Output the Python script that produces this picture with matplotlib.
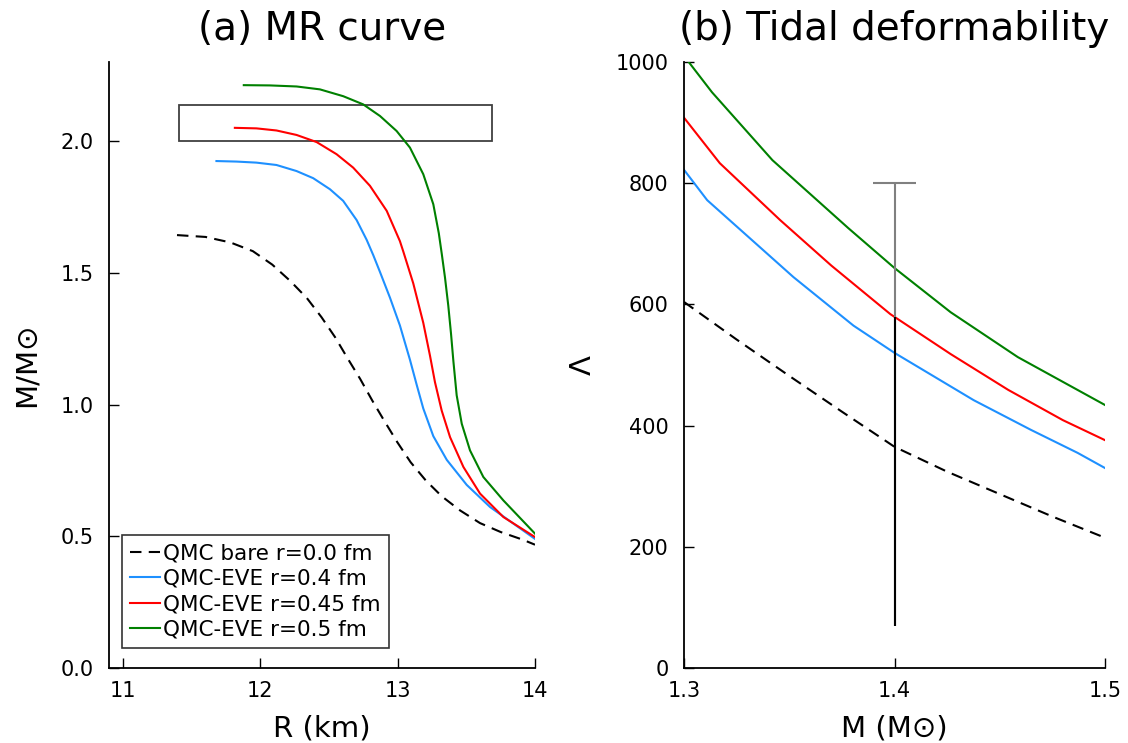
import numpy as np
import matplotlib
matplotlib.use("Agg")
import matplotlib.pyplot as plt
from matplotlib.patches import Rectangle

### MR curve data (R in km, M in solar masses)
R_bare = np.array([11.395, 11.602, 11.784, 11.947, 12.088, 12.219, 12.340, 12.447, 12.546, 12.639, 12.728,
                   12.816, 12.901, 12.998, 13.095, 13.205, 13.321, 13.455, 13.600, 13.751, 13.911, 14.0])
M_bare = np.array([1.643, 1.636, 1.615, 1.582, 1.531, 1.469, 1.404, 1.331, 1.255, 1.173, 1.097,
                   1.015, 0.940, 0.857, 0.781, 0.712, 0.652, 0.598, 0.550, 0.516, 0.487, 0.468])

R_04 = np.array([11.682, 11.828, 11.973, 12.119, 12.265, 12.386, 12.508, 12.604, 12.702, 12.775, 12.823,
                 12.872, 12.945, 13.017, 13.090, 13.139, 13.187, 13.260, 13.358, 13.503, 13.673, 13.843, 14.0])
M_04 = np.array([1.924, 1.922, 1.918, 1.909, 1.886, 1.859, 1.817, 1.773, 1.700, 1.625, 1.567,
                 1.503, 1.405, 1.300, 1.170, 1.075, 0.985, 0.880, 0.790, 0.695, 0.611, 0.548, 0.490])

R_045 = np.array([11.816, 11.973, 12.119, 12.265, 12.411, 12.556, 12.677, 12.799, 12.921, 13.017, 13.042,
                  13.114, 13.187, 13.236, 13.272, 13.321, 13.382, 13.479, 13.600, 13.770, 14.0])
M_045 = np.array([2.050, 2.048, 2.040, 2.023, 1.996, 1.950, 1.899, 1.830, 1.735, 1.620, 1.580,
                  1.460, 1.310, 1.185, 1.085, 0.977, 0.876, 0.763, 0.662, 0.573, 0.497])

R_05 = np.array([11.881, 12.071, 12.265, 12.435, 12.605, 12.750, 12.872, 12.993, 13.090, 13.187, 13.260,
                 13.300, 13.322, 13.345, 13.369, 13.389, 13.406, 13.430, 13.467, 13.527, 13.624, 13.770, 14.0])
M_05 = np.array([2.212, 2.211, 2.207, 2.196, 2.170, 2.139, 2.095, 2.038, 1.975, 1.874, 1.760,
                 1.650, 1.570, 1.482, 1.375, 1.268, 1.165, 1.035, 0.927, 0.826, 0.725, 0.636, 0.510])

# mass constraint box
box_R = (11.41, 13.69)
box_M = (2.00, 2.136)

### Tidal deformability data (M in solar masses, Lambda)
Mt_bare = np.array([1.300, 1.325, 1.350, 1.375, 1.400, 1.425, 1.450, 1.475, 1.500])
L_bare = np.array([604, 542, 482, 423, 365, 324, 287, 250, 215])

Mt_04 = np.array([1.300, 1.311, 1.352, 1.3805, 1.400, 1.4376, 1.4648, 1.487, 1.500])
L_04 = np.array([822, 772, 645, 565, 520, 442, 393, 355, 330])

Mt_045 = np.array([1.300, 1.317, 1.3457, 1.370, 1.398, 1.4267, 1.454, 1.480, 1.500])
L_045 = np.array([908, 833, 739, 664, 584, 518, 459, 409, 376])

Mt_05 = np.array([1.300, 1.3133, 1.342, 1.378, 1.400, 1.4267, 1.4586, 1.500])
L_05 = np.array([1010, 950, 838, 726, 660, 587, 513, 434])

# constraint bars at M=1.4
bar_M = 1.4
bar_gray = (70, 800)
bar_black = (70, 580)

labels = ["QMC bare r=0.0 fm", "QMC-EVE r=0.4 fm", "QMC-EVE r=0.45 fm", "QMC-EVE r=0.5 fm"]
colors = ["black", "#1E90FF", "red", "green"]

plt.rcParams["font.family"] = ["DejaVu Sans"]

fig = plt.figure(figsize=(11.28, 7.43), dpi=100)
ax1 = fig.add_axes([0.0966, 0.1009, 0.3777, 0.8157])
ax2 = fig.add_axes([0.6064, 0.1009, 0.3732, 0.8157])

lw = 1.5
ax1.plot(R_bare, M_bare, color=colors[0], lw=lw, dashes=(5.5, 3.5), label=labels[0])
ax1.plot(R_04, M_04, color=colors[1], lw=lw, label=labels[1])
ax1.plot(R_045, M_045, color=colors[2], lw=lw, label=labels[2])
ax1.plot(R_05, M_05, color=colors[3], lw=lw, label=labels[3])
ax1.add_patch(Rectangle((box_R[0], box_M[0]), box_R[1] - box_R[0], box_M[1] - box_M[0],
                        fill=False, edgecolor="#404040", lw=1.3))

ax1.set_xlim(10.9, 14.0)
ax1.set_ylim(0, 2.3)
ax1.set_xticks([11, 12, 13, 14])
ax1.set_yticks([0.0, 0.5, 1.0, 1.5, 2.0])
ax1.set_xlabel("R (km)", fontsize=21, labelpad=10)
ax1.set_ylabel("M/M⊙", fontsize=21, labelpad=14)
ax1.set_title("(a) MR curve", fontsize=28, pad=16)
leg = ax1.legend(loc="lower left", bbox_to_anchor=(0.03, 0.033), fontsize=15.5, frameon=True,
                 fancybox=False, edgecolor="black", handlelength=1.4, handletextpad=0.1,
                 labelspacing=0.25, borderpad=0.4, borderaxespad=0.0)
leg.get_frame().set_linewidth(1.2)

ax2.plot(Mt_bare, L_bare, color=colors[0], lw=lw, dashes=(5.5, 3.5))
ax2.plot(Mt_04, L_04, color=colors[1], lw=lw)
ax2.plot(Mt_045, L_045, color=colors[2], lw=lw)
ax2.plot(Mt_05, L_05, color=colors[3], lw=lw)
ax2.vlines(bar_M, bar_gray[0], bar_gray[1], color="gray", lw=lw)
ax2.hlines(bar_gray[1], bar_M - 0.01, bar_M + 0.01, color="gray", lw=lw)
ax2.vlines(bar_M, bar_black[0], bar_black[1], color="black", lw=lw)

ax2.set_xlim(1.3, 1.5)
ax2.set_ylim(0, 1000)
ax2.set_xticks([1.3, 1.4, 1.5])
ax2.set_yticks([0, 200, 400, 600, 800, 1000])
ax2.set_xlabel("M (M⊙)", fontsize=21, labelpad=10)
ax2.set_ylabel("Λ", fontsize=21, labelpad=14)
ax2.set_title("(b) Tidal deformability", fontsize=28, pad=16)

for ax in (ax1, ax2):
    ax.spines["top"].set_visible(False)
    ax.spines["right"].set_visible(False)
    ax.spines["left"].set_linewidth(1.3)
    ax.spines["bottom"].set_linewidth(1.3)
    ax.tick_params(direction="in", length=7, width=1, labelsize=15)
    ax.tick_params(axis="y", pad=11)
    ax.tick_params(axis="x", pad=9)

fig.savefig("out.png", dpi=100)
